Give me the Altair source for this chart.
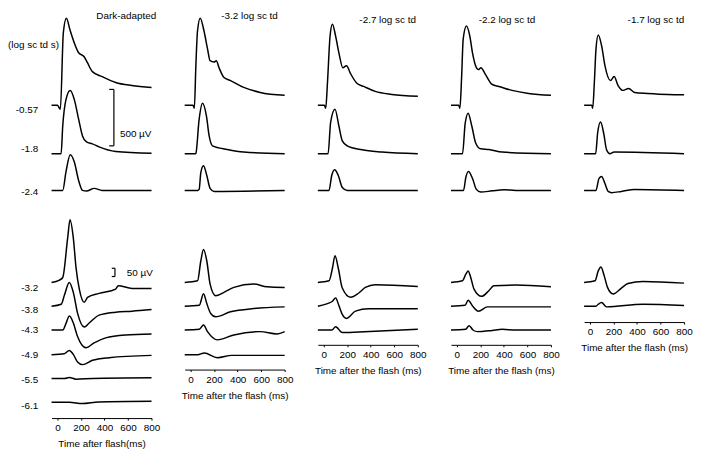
import altair as alt
import pandas as pd

# ------------------------------------------------------------------ text
COLUMN_TITLES = ["Dark-adapted", "-3.2 log sc td", "-2.7 log sc td", "-2.2 log sc td", "-1.7 log sc td"]
X_TITLES = ["Time after flash(ms)", "Time after the flash (ms)", "Time after the flash (ms)",
            "Time after the flash (ms)", "Time after the flash (ms)"]
TOP_LABELS = ["-0.57", "-1.8", "-2.4"]
BOTTOM_LABELS = ["-3.2", "-3.8", "-4.3", "-4.9", "-5.5", "-6.1"]
UNIT_LABEL = "(log sc td s)"
TIME_TICKS = [0, 200, 400, 600, 800]
SCALE_BAR_TOP_UV = 500
SCALE_BAR_BOT_UV = 50

# ------------------------------------------------------------------ traces (time ms, response µV)
da_057_t = [-50, 0, 17, 25, 50, 76, 107, 143, 180, 227, 255, 297, 380, 495, 632, 800]
da_057_uv = [0, 0, -26, -35, 640, 772, 667, 553, 465, 430, 377, 298, 254, 202, 175, 158]
da_18_t = [-50, 0, 31, 45, 73, 109, 143, 180, 213, 247, 297, 354, 495, 800]
da_18_uv = [0, 0, 0, 246, 482, 561, 482, 307, 158, 105, 88, 61, 20, 4]
da_24_t = [-50, 0, 45, 73, 109, 143, 180, 213, 247, 312, 380, 800]
da_24_uv = [0, 0, 0, 167, 316, 254, 88, 0, -6, 18, 0, 0]
da_32_t = [-50, 17, 45, 87, 107, 135, 158, 186, 228, 256, 354, 495, 517, 634, 800]
da_32_uv = [0, 14, 30, 270, 380, 270, 90, -40, -120, -90, -66, -40, -20, -36, -36]
da_38_t = [-50, 32, 59, 101, 135, 171, 228, 270, 354, 495, 634, 800]
da_38_uv = [0, 12, 66, 144, 84, -42, -126, -102, -54, -36, -30, -20]
da_43_t = [-50, 45, 73, 101, 135, 171, 242, 312, 410, 579, 800]
da_43_uv = [0, 0, 40, 84, 42, -40, -108, -78, -48, -30, -24]
da_49_t = [-50, 59, 101, 135, 171, 213, 298, 438, 800]
da_49_uv = [0, 6, 26, 2, -44, -60, -34, -18, -4]
da_55_t = [-50, 60, 101, 158, 300, 800]
da_55_uv = [0, 0, 6, -4, 0, 4]
da_61_t = [-50, 100, 213, 350, 800]
da_61_uv = [0, 0, -8, 2, 6]

b32_057_t = [-50, 20, 32, 45, 59, 82, 116, 144, 166, 200, 219, 242, 284, 340, 452, 592, 800]
b32_057_uv = [0, 0, -26, 351, 658, 772, 649, 500, 395, 383, 395, 333, 246, 219, 158, 114, 88]
b32_18_t = [-50, 40, 45, 73, 101, 135, 158, 186, 312, 452, 800]
b32_18_uv = [0, 0, 4, 307, 447, 333, 158, 70, 38, 15, 0]
b32_24_t = [-50, 60, 73, 87, 110, 138, 166, 200, 800]
b32_24_uv = [0, 0, 9, 158, 219, 132, 18, -9, 0]
b32_32_t = [-50, 59, 87, 110, 138, 166, 213, 284, 368, 537, 649, 800]
b32_32_uv = [0, 10, 130, 200, 130, -10, -80, -60, -30, -10, -26, -30]
b32_38_t = [-50, 74, 110, 138, 171, 213, 340, 537, 800]
b32_38_uv = [0, 6, 76, 16, -44, -64, -34, -14, -4]
b32_43_t = [-50, 74, 110, 144, 228, 368, 592, 733, 800]
b32_43_uv = [0, 4, 30, -10, -60, -30, -10, -24, -10]
b32_49_t = [-50, 60, 116, 228, 350, 800]
b32_49_uv = [0, 0, 10, -18, -4, -4]

b27_057_t = [-50, 5, 17, 32, 54, 74, 101, 129, 163, 194, 228, 284, 340, 438, 579, 800]
b27_057_uv = [0, 0, -26, 202, 614, 719, 614, 465, 333, 351, 281, 193, 167, 123, 96, 79]
b27_18_t = [-50, 37, 59, 96, 129, 158, 200, 326, 495, 800]
b27_18_uv = [0, 0, 281, 395, 246, 114, 70, 35, 15, 0]
b27_24_t = [-50, 45, 68, 93, 124, 158, 200, 800]
b27_24_uv = [0, 0, 132, 184, 132, 26, 0, 0]
b27_32_t = [-50, 45, 74, 96, 124, 158, 228, 298, 354, 438, 800]
b27_32_uv = [0, 10, 86, 162, 86, -34, -90, -64, -30, -14, -24]
b27_38_t = [-50, 32, 74, 101, 129, 158, 192, 270, 382, 800]
b27_38_uv = [0, 16, 30, 50, 4, -50, -74, -30, -16, -16]
b27_43_t = [-50, 70, 101, 158, 300, 800]
b27_43_uv = [0, 0, 20, -16, -12, 4]

b22_057_t = [-50, 15, 26, 40, 54, 82, 110, 133, 166, 183, 205, 239, 301, 357, 469, 609, 800]
b22_057_uv = [0, 0, -26, 237, 588, 702, 614, 465, 333, 316, 333, 281, 184, 167, 132, 105, 88]
b22_18_t = [-50, 45, 48, 71, 96, 127, 160, 203, 272, 385, 800]
b22_18_uv = [0, 0, 0, 272, 360, 246, 96, 44, 38, 15, 0]
b22_24_t = [-50, 57, 76, 99, 133, 166, 203, 300, 399, 500, 800]
b22_24_uv = [0, 0, 114, 167, 105, 9, -15, -4, 6, 0, 0]
b22_32_t = [-50, 48, 76, 96, 118, 146, 211, 272, 314, 500, 800]
b22_32_uv = [0, 10, 50, 70, 30, -40, -84, -50, -20, -16, -26]
b22_38_t = [-50, 70, 96, 133, 183, 260, 800]
b22_38_uv = [0, 6, 36, 2, -30, -4, -4]
b22_43_t = [-50, 75, 104, 138, 174, 300, 385, 500, 800]
b22_43_uv = [0, 4, 26, 0, -10, -3, 4, 0, 0]

b17_057_t = [-50, 15, 23, 37, 51, 70, 99, 127, 174, 205, 239, 281, 329, 379, 491, 660, 800]
b17_057_uv = [0, 0, -26, 202, 500, 623, 526, 351, 219, 254, 175, 132, 149, 114, 105, 96, 94]
b17_18_t = [-50, 45, 48, 65, 90, 116, 141, 169, 205, 800]
b17_18_uv = [0, 0, 0, 184, 281, 184, 35, 0, 15, 0]
b17_24_t = [-50, 45, 51, 76, 99, 127, 155, 183, 267, 379, 800]
b17_24_uv = [0, 0, 0, 105, 123, 61, -9, -20, -9, 9, 0]
b17_32_t = [-50, 43, 70, 93, 121, 149, 197, 267, 323, 450, 800]
b17_32_uv = [0, 10, 70, 94, 40, -30, -70, -34, -6, 6, -4]
b17_38_t = [-50, 50, 70, 99, 141, 450, 800]
b17_38_uv = [0, 0, 12, 22, -4, 12, 4]

COLUMNS = [
    {"top": [(da_057_t, da_057_uv), (da_18_t, da_18_uv), (da_24_t, da_24_uv)],
     "bottom": [(da_32_t, da_32_uv), (da_38_t, da_38_uv), (da_43_t, da_43_uv),
                (da_49_t, da_49_uv), (da_55_t, da_55_uv), (da_61_t, da_61_uv)]},
    {"top": [(b32_057_t, b32_057_uv), (b32_18_t, b32_18_uv), (b32_24_t, b32_24_uv)],
     "bottom": [(b32_32_t, b32_32_uv), (b32_38_t, b32_38_uv), (b32_43_t, b32_43_uv), (b32_49_t, b32_49_uv)]},
    {"top": [(b27_057_t, b27_057_uv), (b27_18_t, b27_18_uv), (b27_24_t, b27_24_uv)],
     "bottom": [(b27_32_t, b27_32_uv), (b27_38_t, b27_38_uv), (b27_43_t, b27_43_uv)]},
    {"top": [(b22_057_t, b22_057_uv), (b22_18_t, b22_18_uv), (b22_24_t, b22_24_uv)],
     "bottom": [(b22_32_t, b22_32_uv), (b22_38_t, b22_38_uv), (b22_43_t, b22_43_uv)]},
    {"top": [(b17_057_t, b17_057_uv), (b17_18_t, b17_18_uv), (b17_24_t, b17_24_uv)],
     "bottom": [(b17_32_t, b17_32_uv), (b17_38_t, b17_38_uv)]},
]

# ------------------------------------------------------------------ layout (pixels below plot top)
TOP_GAIN = 57 / 500      # px per µV, upper (bright-flash) group
BOT_GAIN = 1 / 6         # px per µV, lower (dim-flash) group
TOP_DEPTH = [87, 136, 173]
BOT_DEPTH = [266, 290, 314, 339, 363, 387]
TOP_LABEL_DEPTH = [91, 131, 174]
BOT_LABEL_DEPTH = [271, 293, 314, 339, 364, 390]
UNIT_LABEL_DEPTH = 26
PANEL_HEIGHT = [403, 354, 329, 329, 306]
PANEL_WIDTH = 101
TITLE_DX = [25, 15, 20, 6, 22]
FONT = "Liberation Sans"

x_scale = alt.Scale(domain=[-50, 800], nice=False, zero=False)


def column_chart(ci):
    col = COLUMNS[ci]
    rows = []
    for gi, (t, v) in enumerate(col["top"]):
        for tt, vv in zip(t, v):
            rows.append({"t": tt, "y": -TOP_DEPTH[gi] + vv * TOP_GAIN, "trace": f"top{gi}"})
    for gi, (t, v) in enumerate(col["bottom"]):
        for tt, vv in zip(t, v):
            rows.append({"t": tt, "y": -BOT_DEPTH[gi] + vv * BOT_GAIN, "trace": f"bot{gi}"})
    df = pd.DataFrame(rows)
    h = PANEL_HEIGHT[ci]
    y_scale = alt.Scale(domain=[-h, 0], nice=False, zero=False)

    if ci == 0:
        vals = [-d for d in TOP_LABEL_DEPTH + BOT_LABEL_DEPTH]
        labs = TOP_LABELS + BOTTOM_LABELS
        expr = "''"
        for val, lab in reversed(list(zip(vals, labs))):
            expr = f"datum.value == {val} ? '{lab}' : ({expr})"
        y_axis = alt.Axis(values=vals, labelExpr=expr, domain=False, ticks=False, grid=False,
                          labelPadding=14, labelFontSize=10, labelColor="black", labelFont=FONT,
                          title=None)
    else:
        y_axis = None

    x_axis = alt.Axis(values=TIME_TICKS, title=X_TITLES[ci], grid=False, domainColor="black",
                      tickColor="black", tickSize=2, labelPadding=3, labelFontSize=10,
                      labelColor="black", labelFont=FONT, titleFont=FONT, titleFontSize=10,
                      titleFontWeight="normal", titleColor="black", titlePadding=6,
                      labelFlush=False, labelOverlap=False)

    X = alt.X("t:Q", scale=x_scale, axis=x_axis)
    Y = alt.Y("y:Q", scale=y_scale, axis=y_axis)
    lines = alt.Chart(df).mark_line(interpolate="monotone", color="black", strokeWidth=1.5).encode(
        x=X, y=Y, detail="trace:N", order="t:Q",
    )
    layers = [lines]

    if ci == 0:
        # unit note for the flash-strength labels
        unit = pd.DataFrame([{"y": -UNIT_LABEL_DEPTH, "label": UNIT_LABEL}])
        layers.append(alt.Chart(unit).mark_text(align="left", baseline="middle", fontSize=10,
                                                 font=FONT, color="black").encode(
            x=alt.value(-44), y=Y, text="label:N"))
        # calibration bars
        bars = pd.DataFrame([
            {"t": 480, "y": -128, "y2": -128 + SCALE_BAR_TOP_UV * TOP_GAIN},
            {"t": 489, "y": -260, "y2": -260 + SCALE_BAR_BOT_UV * BOT_GAIN},
        ])
        ticks = pd.DataFrame([
            {"t": 440, "t2": 480, "y": -128},
            {"t": 440, "t2": 480, "y": -128 + SCALE_BAR_TOP_UV * TOP_GAIN},
            {"t": 462, "t2": 489, "y": -260},
            {"t": 462, "t2": 489, "y": -260 + SCALE_BAR_BOT_UV * BOT_GAIN},
        ])
        texts = pd.DataFrame([
            {"t": 531, "y": -116, "label": f"{SCALE_BAR_TOP_UV} µV"},
            {"t": 590, "y": -256, "label": f"{SCALE_BAR_BOT_UV} µV"},
        ])
        layers.append(alt.Chart(bars).mark_rule(color="black", strokeWidth=1.2).encode(
            x=X, y=Y, y2="y2:Q"))
        layers.append(alt.Chart(ticks).mark_rule(color="black", strokeWidth=1.2).encode(
            x=X, x2="t2:Q", y=Y))
        layers.append(alt.Chart(texts).mark_text(align="left", baseline="middle", fontSize=10,
                                                  font=FONT, color="black").encode(
            x=X, y=Y, text="label:N"))

    return alt.layer(*layers).properties(
        width=PANEL_WIDTH, height=h,
        title=alt.TitleParams(COLUMN_TITLES[ci], fontSize=10, fontWeight="normal", font=FONT,
                              color="black", anchor="middle", dx=TITLE_DX[ci], offset=-6),
    )


chart = alt.hconcat(*[column_chart(i) for i in range(5)], spacing=33.5, bounds="flush").properties(
    padding=0
).configure(font=FONT).configure_view(stroke="transparent", strokeWidth=0)

chart.save("out.html", embed_options={"renderer": "svg", "actions": False})
